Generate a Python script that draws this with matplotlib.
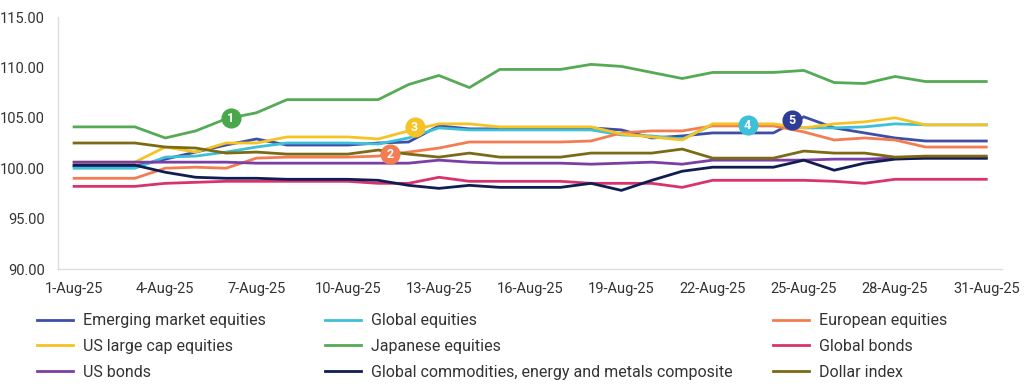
import matplotlib.pyplot as plt
from matplotlib.lines import Line2D

plt.rcParams['font.family'] = ['Roboto', 'DejaVu Sans']

# days of August 2025 (weekend values carried forward)
days = list(range(1, 32))
tick_days = [1, 4, 7, 10, 13, 16, 19, 22, 25, 28, 31]
tick_labels = ['1-Aug-25', '4-Aug-25', '7-Aug-25', '10-Aug-25', '13-Aug-25', '16-Aug-25',
               '19-Aug-25', '22-Aug-25', '25-Aug-25', '28-Aug-25', '31-Aug-25']

em_equities = [100.2, 100.2, 100.2, 100.9, 101.6, 102.3, 102.9, 102.3, 102.3, 102.3, 102.5,
               102.6, 104.2, 103.9, 103.9, 103.9, 103.9, 104.0, 103.8, 103.0, 103.2, 103.5,
               103.5, 103.5, 105.1, 104.0, 103.5, 103.0, 102.7, 102.7, 102.7]
global_equities = [100.0, 100.0, 100.0, 101.1, 101.2, 101.6, 102.1, 102.5, 102.5, 102.5, 102.4,
                   103.0, 104.0, 103.8, 103.8, 103.8, 103.8, 103.8, 103.3, 103.2, 102.9, 104.3,
                   104.3, 104.3, 104.0, 104.0, 104.1, 104.4, 104.3, 104.3, 104.3]
european_equities = [99.0, 99.0, 99.0, 100.0, 100.1, 100.0, 101.0, 101.1, 101.1, 101.1, 101.2,
                     101.6, 102.0, 102.6, 102.6, 102.6, 102.6, 102.7, 103.5, 103.7, 103.7, 104.2,
                     104.2, 104.2, 103.6, 102.8, 103.0, 102.8, 102.1, 102.1, 102.1]
us_large_cap = [100.6, 100.6, 100.6, 102.1, 101.6, 102.5, 102.5, 103.1, 103.1, 103.1, 102.9,
                103.7, 104.4, 104.4, 104.1, 104.1, 104.1, 104.1, 103.4, 103.1, 102.8, 104.4,
                104.4, 104.4, 104.0, 104.4, 104.6, 105.0, 104.3, 104.3, 104.3]
japanese_equities = [104.1, 104.1, 104.1, 103.0, 103.7, 104.9, 105.5, 106.8, 106.8, 106.8, 106.8,
                     108.3, 109.2, 108.0, 109.8, 109.8, 109.8, 110.3, 110.1, 109.5, 108.9, 109.5,
                     109.5, 109.5, 109.7, 108.5, 108.4, 109.1, 108.6, 108.6, 108.6]
global_bonds = [98.2, 98.2, 98.2, 98.5, 98.6, 98.7, 98.7, 98.7, 98.7, 98.7, 98.5,
                98.5, 99.1, 98.7, 98.7, 98.7, 98.7, 98.5, 98.5, 98.5, 98.1, 98.8,
                98.8, 98.8, 98.8, 98.7, 98.5, 98.9, 98.9, 98.9, 98.9]
us_bonds = [100.6, 100.6, 100.6, 100.6, 100.6, 100.6, 100.5, 100.5, 100.5, 100.5, 100.5,
            100.5, 100.8, 100.6, 100.5, 100.5, 100.5, 100.4, 100.5, 100.6, 100.4, 100.8,
            100.8, 100.8, 100.8, 100.9, 100.9, 101.0, 101.0, 101.0, 101.0]
commodities = [100.3, 100.3, 100.3, 99.6, 99.1, 99.0, 99.0, 98.9, 98.9, 98.9, 98.8,
               98.3, 98.0, 98.3, 98.1, 98.1, 98.1, 98.5, 97.8, 98.8, 99.7, 100.1,
               100.1, 100.1, 100.8, 99.8, 100.5, 100.9, 101.0, 101.0, 101.0]
dollar_index = [102.5, 102.5, 102.5, 102.1, 102.0, 101.5, 101.6, 101.4, 101.4, 101.4, 101.8,
                101.4, 101.1, 101.5, 101.1, 101.1, 101.1, 101.5, 101.5, 101.5, 101.9, 101.0,
                101.0, 101.0, 101.7, 101.5, 101.5, 101.1, 101.2, 101.2, 101.2]

series = [
    ('Emerging market equities', em_equities, '#3d4ea6'),
    ('Global equities', global_equities, '#3ec0d8'),
    ('European equities', european_equities, '#f47c52'),
    ('US large cap equities', us_large_cap, '#f6c325'),
    ('Japanese equities', japanese_equities, '#55aa55'),
    ('Global bonds', global_bonds, '#d8336d'),
    ('US bonds', us_bonds, '#7a3fa6'),
    ('Global commodities, energy and metals composite', commodities, '#0f1d52'),
    ('Dollar index', dollar_index, '#7d6a14'),
]

# numbered call-outs
callout_nums = ['1', '2', '3', '4', '5']
callout_x = [6.15, 11.4, 12.2, 23.15, 24.6]
callout_y = [105.0, 101.4, 104.1, 104.3, 104.8]
callout_colors = ['#4aa64a', '#f47c52', '#f6c325', '#3ec0d8', '#2f3b98']

fig = plt.figure(figsize=(10.24, 3.91), dpi=100)
ax = fig.add_axes([0.0566, 0.312, 0.922, 0.6445])

for name, vals, col in series:
    ax.plot(days, vals, color=col, linewidth=2.0, label=name, solid_joinstyle='round')

for n, x, y, c in zip(callout_nums, callout_x, callout_y, callout_colors):
    ax.plot(x, y, 'o', ms=13.5, color=c, zorder=5)
    ax.text(x, y - 0.05, n, color='white', ha='center', va='center',
            fontsize=9, fontweight='bold', zorder=6)

ax.set_xlim(0.47, 31.52)
ax.set_ylim(90, 115)
ax.set_yticks([90, 95, 100, 105, 110, 115])
ax.set_yticklabels([f'{v:.2f}' for v in [90, 95, 100, 105, 110, 115]])
ax.set_xticks(tick_days)
ax.set_xticklabels(tick_labels)
ax.tick_params(length=0, labelsize=10.5, labelcolor='#333333')
ax.tick_params(axis='y', pad=9.5)
ax.tick_params(axis='x', pad=9)
for s in ['top', 'right']:
    ax.spines[s].set_visible(False)
for s in ['left', 'bottom']:
    ax.spines[s].set_color('#dddddd')
    ax.spines[s].set_linewidth(1)

# legend in three columns placed separately
col_x = [0.036, 0.317, 0.755]
for ci in range(3):
    handles = []
    labels = []
    for name, vals, col in series[ci::3]:
        handles.append(Line2D([], [], color=col, linewidth=2.0))
        labels.append(name)
    fig.legend(handles, labels, loc='upper left', bbox_to_anchor=(col_x[ci], 0.199),
               frameon=False, fontsize=11.5, handlelength=2.25, handletextpad=0.63,
               labelspacing=0.67, borderaxespad=0, borderpad=0, labelcolor='#333333')

fig.savefig('out.png', dpi=100)
